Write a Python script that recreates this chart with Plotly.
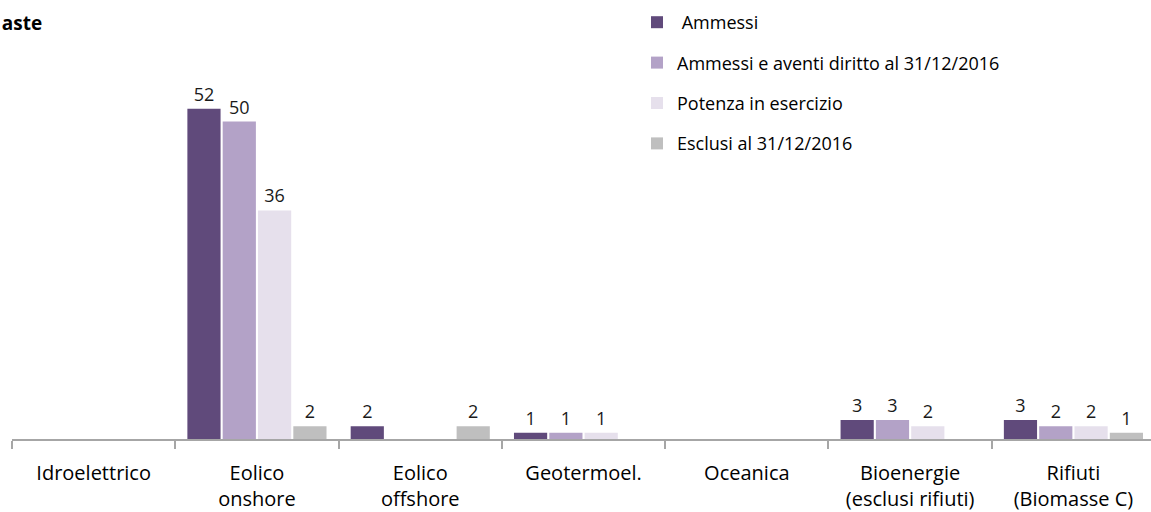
import plotly.graph_objects as go

# ---------------------------------------------------------------------------
# Data
# ---------------------------------------------------------------------------
CATEGORIES = [
    "Idroelettrico",
    "Eolico<br>onshore",
    "Eolico<br>offshore",
    "Geotermoel.",
    "Oceanica",
    "Bioenergie<br>(esclusi rifiuti)",
    "Rifiuti<br>(Biomasse C)",
]
AMMESSI = [0, 52, 2, 1, 0, 3, 3]
AVENTI_DIRITTO = [0, 50, 0, 1, 0, 3, 2]
POTENZA = [0, 36, 0, 1, 0, 2, 2]
ESCLUSI = [0, 2, 2, 0, 0, 0, 1]

SERIES = [
    (" Ammessi", AMMESSI, "#604a7b"),
    ("Ammessi e aventi diritto al 31/12/2016", AVENTI_DIRITTO, "#b3a2c7"),
    ("Potenza in esercizio", POTENZA, "#e6e0ec"),
    ("Esclusi al 31/12/2016", ESCLUSI, "#bfbfbf"),
]

FONT = "'Open Sans', sans-serif"
AXIS_GREY = "#a6a6a6"

fig = go.Figure()

for i, (name, values, color) in enumerate(SERIES):
    fig.add_trace(go.Bar(
        name=name,
        x=CATEGORIES,
        y=values,
        marker_color=color,
        marker_line_width=0,
        text=[str(v) if v else "" for v in values],
        textposition="outside",
        textfont=dict(family=FONT, size=18, color="#1a1a1a"),
        cliponaxis=False,
        legendgroup=f"g{i}",
    ))

fig.update_layout(
    width=1151,
    height=512,
    margin=dict(l=12, r=0, t=58, b=73),
    paper_bgcolor="white",
    plot_bgcolor="white",
    font=dict(family=FONT, size=18, color="#000000"),
    barmode="group",
    bargap=0.135,
    bargroupgap=0.06,
    showlegend=True,
    legend=dict(
        x=(637 - 12) / 1139,
        xanchor="left",
        y=1 + (58 - 4) / 381,
        yanchor="top",
        font=dict(family=FONT, size=18, color="#000000"),
        tracegroupgap=14,
        bgcolor="rgba(0,0,0,0)",
    ),
    xaxis=dict(
        type="category",
        range=[-0.5, 6.475],
        showline=True,
        linecolor=AXIS_GREY,
        linewidth=2,
        ticks="outside",
        tickson="boundaries",
        ticklen=8,
        tickwidth=2,
        tickcolor=AXIS_GREY,
        ticklabelstandoff=15,
        tickfont=dict(family=FONT, size=20, color="#000000"),
        showgrid=False,
        zeroline=False,
    ),
    yaxis=dict(
        range=[0, 60],
        visible=False,
        showgrid=False,
        zeroline=False,
    ),
)

fig.add_annotation(
    text="<b>Esiti aste</b>",
    xref="paper", yref="paper",
    x=(44 - 12) / 1139, y=1 + (58 - 23) / 381,
    xanchor="right", yanchor="middle",
    showarrow=False,
    font=dict(family=FONT, size=19, color="#000000"),
)

# the page's default body margin would shift the whole figure by 8px
fig.write_html(
    "out.html",
    config={"displayModeBar": False},
    post_script="document.body.style.margin='0';",
)
